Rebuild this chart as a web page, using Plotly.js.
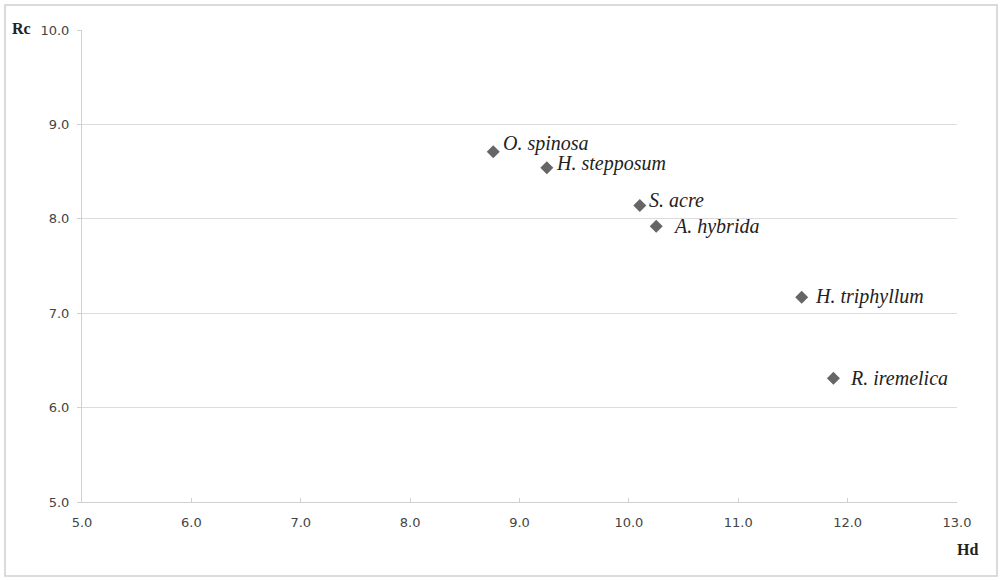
<!DOCTYPE html>
<html>
<head>
<meta charset="utf-8">
<script src="https://cdn.plot.ly/plotly-3.0.1.min.js"></script>
<style>
  html, body { margin: 0; padding: 0; background: #fff; }
  #chart { width: 1003px; height: 580px; }
</style>
</head>
<body>
<div id="chart"></div>
<script>
// Species plotted by Hd (x) against Rc (y)
const species = ['O. spinosa', 'H. stepposum', 'S. acre', 'A. hybrida', 'H. triphyllum', 'R. iremelica'];
const hdValues = [8.76, 9.25, 10.10, 10.25, 11.58, 11.87];
const rcValues = [8.71, 8.54, 8.14, 7.92, 7.17, 6.31];
const tickValues = [5, 6, 7, 8, 9, 10, 11, 12, 13];

// label offsets in pixels from each marker (style only)
const labelShiftX = [8, 7, 7, 15, 11, 15];
const labelShiftY = [8, 4, 6, 0, 1, 0];

const trace = {
    x: hdValues,
    y: rcValues,
    mode: 'markers',
    type: 'scatter',
    marker: { symbol: 'diamond', size: 10, color: '#666666' },
    hoverinfo: 'x+y+text',
    text: species
};

const labels = species.map((name, i) => ({
    x: hdValues[i],
    y: rcValues[i],
    xref: 'x',
    yref: 'y',
    text: '<i>' + name + '</i>',
    showarrow: false,
    xanchor: 'left',
    yanchor: 'middle',
    xshift: labelShiftX[i],
    yshift: labelShiftY[i],
    font: { family: 'Liberation Serif, Times New Roman, serif', size: 20, color: '#222' }
}));

labels.push({
    x: 0, y: 1, xref: 'paper', yref: 'paper',
    xanchor: 'left', yanchor: 'middle',
    xshift: -72, yshift: 2,
    text: '<b>Rc</b>', showarrow: false,
    font: { family: 'Liberation Serif, serif', size: 16, color: '#222' }
});
labels.push({
    x: 1, y: 0, xref: 'paper', yref: 'paper',
    xanchor: 'left', yanchor: 'middle',
    xshift: -2, yshift: -47,
    text: '<b>Hd</b>', showarrow: false,
    font: { family: 'Liberation Serif, serif', size: 16, color: '#222' }
});

const layout = {
    width: 1003,
    height: 580,
    margin: { l: 82, r: 46, t: 30, b: 78 },
    paper_bgcolor: '#ffffff',
    plot_bgcolor: '#ffffff',
    showlegend: false,
    font: { family: 'DejaVu Sans, sans-serif', size: 13, color: '#444' },
    xaxis: {
        range: [5, 13],
        tickvals: tickValues,
        ticktext: tickValues.map(v => v.toFixed(1)),
        showgrid: false,
        zeroline: false,
        showline: true,
        linecolor: '#d0d0d0',
        linewidth: 1,
        ticks: 'inside',
        ticklen: 4,
        tickcolor: '#d0d0d0',
        ticklabelstandoff: 8,
        tickfont: { family: 'DejaVu Sans, sans-serif', size: 13, color: '#444' }
    },
    yaxis: {
        range: [5, 10],
        tickvals: [5, 6, 7, 8, 9, 10],
        ticktext: ['5.0', '6.0', '7.0', '8.0', '9.0', '10.0'],
        showgrid: true,
        gridcolor: '#dcdcdc',
        gridwidth: 1,
        zeroline: false,
        showline: true,
        linecolor: '#d0d0d0',
        linewidth: 1,
        ticks: 'outside',
        ticklen: 4,
        tickcolor: '#d0d0d0',
        ticklabelstandoff: 5,
        tickfont: { family: 'DejaVu Sans, sans-serif', size: 13, color: '#444' }
    },
    annotations: labels,
    shapes: [{
        type: 'rect',
        xref: 'paper', yref: 'paper',
        x0: (5 - 82) / 875, x1: (997 - 82) / 875,
        y0: (502 - 576) / 472, y1: (502 - 5) / 472,
        line: { color: '#cfcfcf', width: 1.5 },
        fillcolor: 'rgba(0,0,0,0)',
        layer: 'below'
    }]
};

Plotly.newPlot('chart', [trace], layout, { displayModeBar: false, staticPlot: true });
</script>
</body>
</html>
